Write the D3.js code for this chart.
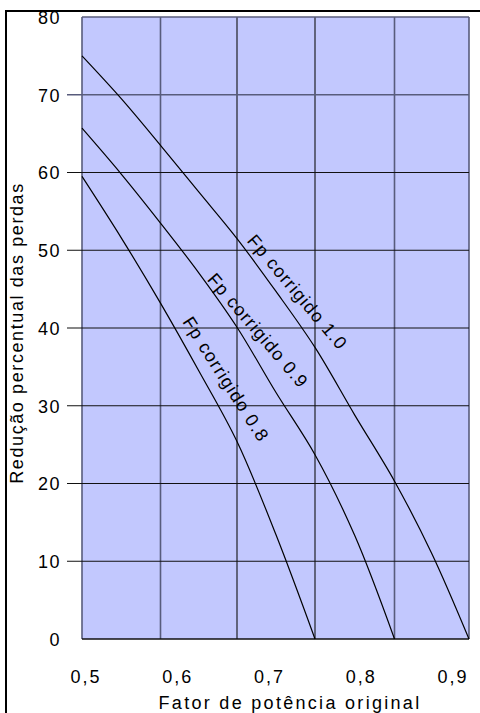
<!DOCTYPE html>
<html>
<head>
<meta charset="utf-8">
<script src="https://cdn.jsdelivr.net/npm/d3@7"></script>
<style>
  html, body { margin: 0; padding: 0; background: #fff; }
  svg { display: block; }
  text { font-family: "Liberation Sans", Arial, sans-serif; fill: #000; }
</style>
</head>
<body>
<svg id="chart" width="480" height="713"></svg>
<script>
// ---------- data ----------
const xGridValues = [0.5, 0.6, 0.7, 0.8, 0.9, 1.0];
const yGridValues = [0, 10, 20, 30, 40, 50, 60, 70, 80];
const xTickLabels = ["0,5", "0,6", "0,7", "0,8", "0,9"];
const yTickLabels = ["0", "10", "20", "30", "40", "50", "60", "70", "80"];

const fp10 = [0.5, 0.55, 0.6, 0.65, 0.7, 0.75, 0.8, 0.85, 0.9, 0.95, 1.0];
const red10 = [75, 69.5, 63.5, 57.5, 51.5, 44.7, 37.5, 28.8, 20.3, 11, 0];

const fp09 = [0.5, 0.55, 0.6, 0.65, 0.7, 0.75, 0.8, 0.85, 0.9];
const red09 = [65.7, 59.8, 53.5, 47.1, 40.1, 31.7, 23.7, 13.3, 0];

const fp08 = [0.5, 0.55, 0.6, 0.65, 0.7, 0.75, 0.8];
const red08 = [59.5, 51.6, 43.2, 34.5, 25.4, 13.4, 0];

const curveNames = ["Fp corrigido 1.0", "Fp corrigido 0.9", "Fp corrigido 0.8"];
const labelAnchorFp = [0.7120, 0.6600, 0.6280];
const labelAnchorRed = [51.2, 46.2, 40.8];
const labelAngles = [50, 49.5, 57.5];

const xTitle = "Fator de potência original";
const yTitle = "Redução percentual das perdas";

// ---------- layout ----------
const plot = { left: 82, right: 469, top: 17, bottom: 639 };
const svg = d3.select("#chart");

const x = d3.scaleLinear().domain(xGridValues).range([82, 160.5, 237, 315, 394.5, 469]);
const y = d3.scaleLinear().domain([0, 80]).range([plot.bottom, plot.top]);
const xLab = d3.scalePoint().domain(xTickLabels).range([85, 452]);

// outer frame (top and left)
svg.append("line").attr("x1", 5).attr("x2", 480).attr("y1", 11).attr("y2", 11)
  .attr("stroke", "#000").attr("stroke-width", 2);
svg.append("line").attr("x1", 6).attr("x2", 6).attr("y1", 10).attr("y2", 713)
  .attr("stroke", "#000").attr("stroke-width", 2);

// plot background
svg.append("rect")
  .attr("x", plot.left).attr("y", plot.top)
  .attr("width", plot.right - plot.left).attr("height", plot.bottom - plot.top)
  .attr("fill", "#c2c8fe");

const greyV = new Set([0.5, 0.6, 0.9, 1.0]);
const greyH = new Set([70, 80]);

// vertical gridlines
svg.append("g").selectAll("line").data(xGridValues).join("line")
  .attr("x1", d => x(d)).attr("x2", d => x(d))
  .attr("y1", plot.top).attr("y2", plot.bottom)
  .attr("stroke", d => greyV.has(d) ? "#585c7c" : "#111")
  .attr("stroke-width", d => greyV.has(d) ? 1.6 : 1.1);

// horizontal gridlines (+ small ticks on the left)
svg.append("g").selectAll("line").data(yGridValues).join("line")
  .attr("x1", d => (d > 0 && d < 80) ? 67 : plot.left).attr("x2", plot.right)
  .attr("y1", d => y(d)).attr("y2", d => y(d))
  .attr("stroke", d => greyH.has(d) ? "#585c7c" : "#111")
  .attr("stroke-width", d => d === 0 ? 1.6 : (greyH.has(d) ? 1.4 : 1.1));

// y tick labels
svg.append("g").selectAll("text").data(yGridValues).join("text")
  .attr("x", 61).attr("y", d => y(d) + 2)
  .attr("text-anchor", "end").attr("dominant-baseline", "middle")
  .style("font-size", "18px").style("letter-spacing", "1.5px")
  .text((d, i) => yTickLabels[i]);

// x tick labels
svg.append("g").selectAll("text").data(xTickLabels).join("text")
  .attr("x", d => xLab(d) + 1).attr("y", 683)
  .attr("text-anchor", "middle")
  .style("font-size", "18px").style("letter-spacing", "2px")
  .text(d => d);

// axis titles
svg.append("text").attr("x", 290).attr("y", 709).attr("text-anchor", "middle")
  .style("font-size", "18px").style("letter-spacing", "2.3px").text(xTitle);

svg.append("text").attr("transform", "translate(23,333) rotate(-90)")
  .attr("text-anchor", "middle")
  .style("font-size", "18px").style("letter-spacing", "1.6px").text(yTitle);

// curves
const series = [
  fp10.map((f, i) => [f, red10[i]]),
  fp09.map((f, i) => [f, red09[i]]),
  fp08.map((f, i) => [f, red08[i]])
];
const line = d3.line().x(d => x(d[0])).y(d => y(d[1])).curve(d3.curveCatmullRom.alpha(0.5));
svg.append("g").selectAll("path").data(series).join("path")
  .attr("d", line).attr("fill", "none").attr("stroke", "#000").attr("stroke-width", 1.2);

// curve labels
svg.append("g").selectAll("text").data(curveNames).join("text")
  .attr("transform", (d, i) => `translate(${x(labelAnchorFp[i])},${y(labelAnchorRed[i])}) rotate(${labelAngles[i]})`)
  .style("font-size", "18px").style("letter-spacing", "1.2px")
  .text(d => d);
</script>
</body>
</html>
